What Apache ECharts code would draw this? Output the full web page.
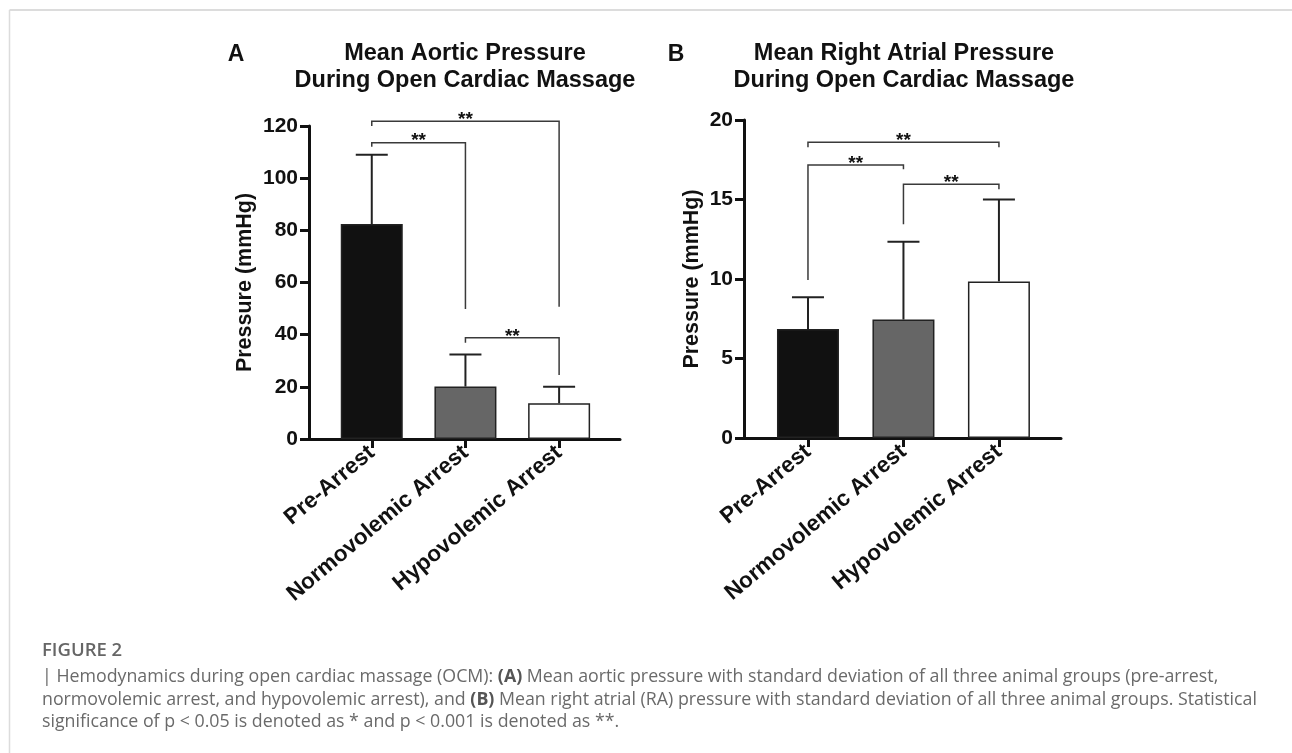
<!DOCTYPE html>
<html>
<head>
<meta charset="utf-8">
<script src="https://cdn.jsdelivr.net/npm/echarts@6/dist/echarts.min.js"></script>
<style>
html,body{margin:0;padding:0;background:#fff;}
#c{width:1292px;height:753px;}
</style>
</head>
<body>
<div id="c"></div>
<script>
// ---- data ----
var categories = ['Pre-Arrest', 'Normovolemic Arrest', 'Hypovolemic Arrest'];
var aorticMean = [82.4, 20.1, 13.7];
var aorticSD = [26.6, 12.3, 6.3];
var raMean = [6.85, 7.45, 9.85];
var raSD = [2.0, 4.9, 5.15];
// significance brackets: [fromIndex, toIndex, barLevel, leftEnd, rightEnd]
var aorticSig = [[0, 1, 113.6, 112.0, 49.8], [0, 2, 121.8, 120.0, 50.7], [1, 2, 38.8, 36.9, 24.5]];
var raSig = [[0, 2, 18.6, 18.29, 18.29], [0, 1, 17.17, 9.93, 16.9], [1, 2, 15.96, 13.44, 15.64]];
var sigLabel = '**';
var aorticTicks = {min: 0, max: 120, interval: 20};
var raTicks = {min: 0, max: 20, interval: 5};

var barColors = ['#111111', '#666666', '#ffffff'];
var FONT = '"Liberation Sans", Arial, sans-serif';

var chart = echarts.init(document.getElementById('c'), null, {renderer: 'canvas'});

function barData(means) {
  return means.map(function (v, i) {
    return {value: [i, v], itemStyle: {color: barColors[i]}};
  });
}
function errData(means, sds) {
  return means.map(function (v, i) { return [i, v, sds[i]]; });
}
function renderErr(params, api) {
  var x = api.value(0), m = api.value(1), sd = api.value(2);
  var p0 = api.coord([x, m]);
  var p1 = api.coord([x, m + sd]);
  var st = {stroke: '#222', lineWidth: 2};
  return {type: 'group', children: [
    {type: 'line', shape: {x1: p0[0], y1: p0[1], x2: p1[0], y2: p1[1]}, style: st},
    {type: 'line', shape: {x1: p1[0] - 16, y1: p1[1], x2: p1[0] + 16, y2: p1[1]}, style: st}
  ]};
}
function renderSig(params, api) {
  var a = api.value(0), b = api.value(1), lv = api.value(2), le = api.value(3), re = api.value(4);
  var pl = api.coord([a, le]);
  var pa = api.coord([a, lv]);
  var pb = api.coord([b, lv]);
  var pr = api.coord([b, re]);
  return {type: 'group', children: [
    {type: 'polyline', shape: {points: [pl, pa, pb, pr]},
      style: {stroke: '#3a3a3a', lineWidth: 1.5, fill: null}},
    {type: 'text', x: (pa[0] + pb[0]) / 2, y: pa[1] - 1.5,
      style: {text: sigLabel, font: 'bold 19px ' + FONT, fill: '#111',
        align: 'center', verticalAlign: 'middle'}}
  ]};
}

function xAxisFor(gi) {
  return {
    type: 'value', gridIndex: gi, min: -0.67, max: 2.65,
    splitLine: {show: false},
    axisLine: {show: true, onZero: true, lineStyle: {color: '#111', width: 3}},
    axisTick: {show: true, customValues: [0, 1, 2], length: 9, inside: false,
      lineStyle: {color: '#111', width: 3}},
    axisLabel: {show: true, customValues: [0, 1, 2], rotate: 40, margin: 11,
      formatter: function (v) { return categories[Math.round(v)]; },
      fontFamily: FONT, fontWeight: 'bold', fontSize: 22.5, color: '#111'}
  };
}
function yAxisFor(gi, t, gap) {
  return {
    type: 'value', gridIndex: gi, min: t.min, max: t.max, interval: t.interval,
    name: 'Pressure (mmHg)', nameLocation: 'middle', nameGap: gap,
    nameTextStyle: {fontFamily: FONT, fontWeight: 'bold', fontSize: 21.5, color: '#111'},
    splitLine: {show: false},
    axisLine: {show: true, onZero: false, lineStyle: {color: '#111', width: 3}},
    axisTick: {show: true, length: 9, lineStyle: {color: '#111', width: 3}},
    axisLabel: {margin: 11, fontFamily: FONT, fontWeight: 'bold', fontSize: 21, color: '#111'}
  };
}

function barSeries(gi, means) {
  return {
    type: 'bar', xAxisIndex: gi, yAxisIndex: gi, barWidth: 62,
    data: barData(means),
    itemStyle: {borderColor: '#222', borderWidth: 1.5},
    animation: false, z: 2
  };
}
function errSeries(gi, means, sds) {
  return {type: 'custom', xAxisIndex: gi, yAxisIndex: gi, renderItem: renderErr,
    data: errData(means, sds), encode: {x: 0, y: 1}, animation: false, z: 3, clip: false};
}
function sigSeries(gi, sig) {
  return {type: 'custom', xAxisIndex: gi, yAxisIndex: gi, renderItem: renderSig,
    data: sig, encode: {x: [0, 1], y: [2, 3, 4]}, animation: false, z: 4, clip: false};
}

function txt(x, y, text, font, fill, align) {
  return {type: 'text', x: x, y: y, style: {text: text, font: font, fill: fill || '#111',
    align: align || 'center', verticalAlign: 'middle'}};
}

var titleFont = 'bold 23.5px ' + FONT;
var capFont = '17.8px "Open Sans", sans-serif';
var capColor = '#6a6a6a';
var rich = {b: {fontWeight: 'bold', fontFamily: '"Open Sans", sans-serif', fontSize: 17.8, fill: '#555'}};
function capLine(y, text) {
  return {type: 'text', x: 42, y: y, style: {text: text, font: capFont, fill: capColor,
    align: 'left', verticalAlign: 'middle', rich: rich}};
}

chart.setOption({
  animation: false,
  backgroundColor: '#fff',
  grid: [
    {left: 309, top: 126, width: 311, height: 313},
    {left: 744, top: 120, width: 317, height: 318}
  ],
  xAxis: [xAxisFor(0), xAxisFor(1)],
  yAxis: [yAxisFor(0, aorticTicks, 53), yAxisFor(1, raTicks, 41)],
  series: [
    barSeries(0, aorticMean), errSeries(0, aorticMean, aorticSD), sigSeries(0, aorticSig),
    barSeries(1, raMean), errSeries(1, raMean, raSD), sigSeries(1, raSig)
  ],
  graphic: [
    {type: 'line', shape: {x1: 9.5, y1: 10, x2: 1292, y2: 10}, style: {stroke: '#dcdcdc', lineWidth: 2}},
    {type: 'line', shape: {x1: 9.5, y1: 10, x2: 9.5, y2: 753}, style: {stroke: '#dcdcdc', lineWidth: 1.5}},
    txt(236, 55, 'A', 'bold 23px ' + FONT),
    txt(465, 54, 'Mean Aortic Pressure', titleFont),
    txt(465, 81, 'During Open Cardiac Massage', titleFont),
    txt(676, 55, 'B', 'bold 23px ' + FONT),
    txt(904, 54, 'Mean Right Atrial Pressure', titleFont),
    txt(904, 81, 'During Open Cardiac Massage', titleFont),
    txt(42, 651, 'FIGURE 2', '600 18.5px "Open Sans", sans-serif', '#666', 'left'),
    capLine(677, '| Hemodynamics during open cardiac massage (OCM): {b|(A)} Mean aortic pressure with standard deviation of all three animal groups (pre-arrest,'),
    capLine(700, 'normovolemic arrest, and hypovolemic arrest), and {b|(B)} Mean right atrial (RA) pressure with standard deviation of all three animal groups. Statistical'),
    capLine(722, 'significance of p < 0.05 is denoted as * and p < 0.001 is denoted as **.')
  ]
});
</script>
</body>
</html>
